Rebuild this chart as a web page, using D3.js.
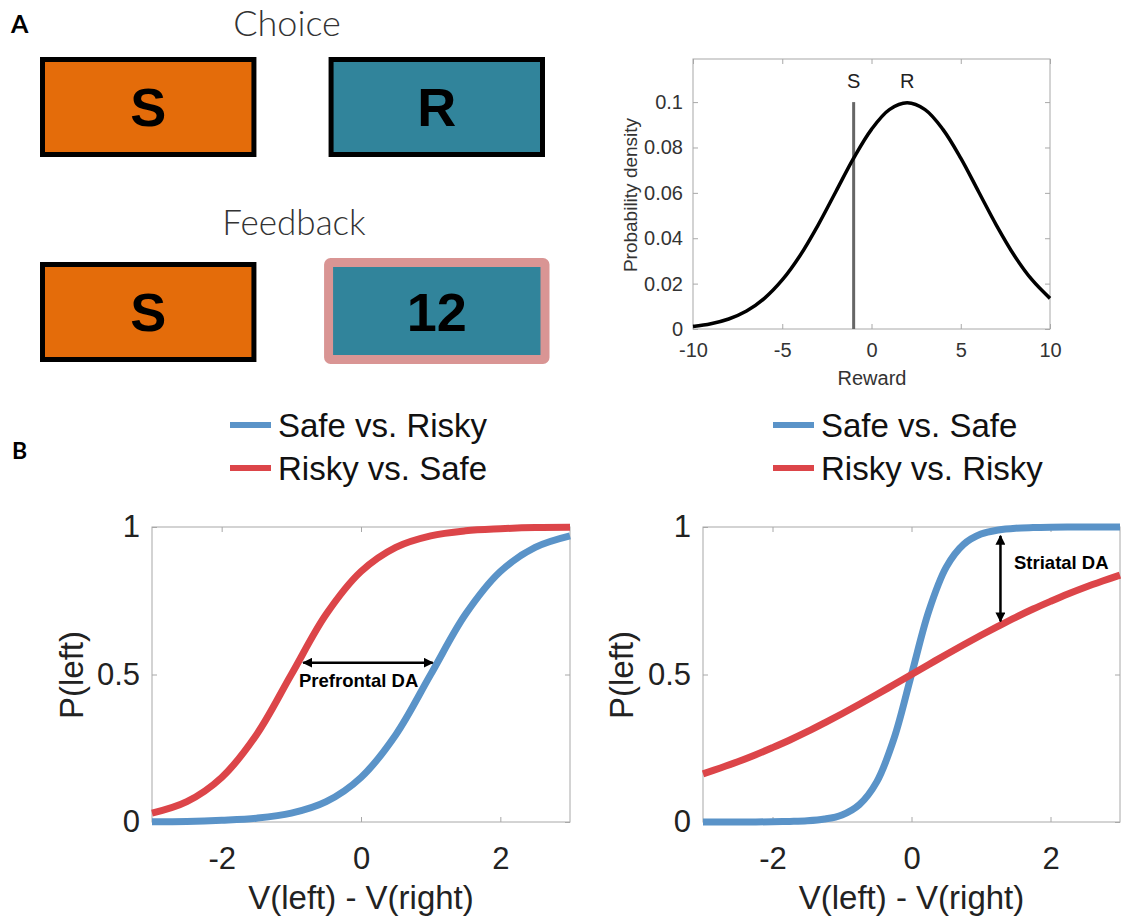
<!DOCTYPE html>
<html>
<head>
<meta charset="utf-8">
<script src="https://cdn.jsdelivr.net/npm/d3@7"></script>
<style>
  body { margin: 0; background: #fff; }
  text { font-family: "Liberation Sans", Arial, Helvetica, sans-serif; }
  .gothic { font-family: Lato, "Open Sans", sans-serif; }
</style>
</head>
<body>
<svg width="1125" height="919"></svg>
<script>
var svg = d3.select("svg"),
    width = +svg.attr("width"),
    height = +svg.attr("height");

// ---- panel A: task screens
var choiceLabels = ["S", "R"];
var feedbackLabels = ["S", "12"];

// ---- panel A: reward distribution
var rewardX = [-10, -9, -8, -7, -6, -5, -4, -3, -2, -1, 0, 1, 2, 3, 4, 5, 6, 7, 8, 9, 10];
var rewardDensity = [0.0011, 0.0023, 0.0044, 0.0079, 0.0135, 0.0216, 0.0324, 0.0457, 0.0605, 0.0753,
                     0.0880, 0.0967, 0.0997, 0.0967, 0.0880, 0.0753, 0.0605, 0.0457, 0.0324, 0.0216, 0.0135];
var safeReward = -1, riskyMean = 2;
var densityTicksX = [-10, -5, 0, 5, 10];
var densityTicksY = [0, 0.02, 0.04, 0.06, 0.08, 0.1];

// ---- panel B: choice curves
var leftX = [-3, -2.5, -2, -1.5, -1, -0.5, 0, 0.5, 1, 1.5, 2, 2.5, 3];
var safeVsRisky = [0.001, 0.002, 0.006, 0.013, 0.03, 0.069, 0.151, 0.296, 0.5, 0.704, 0.849, 0.931, 0.97];
var riskyVsSafe = [0.03, 0.069, 0.151, 0.296, 0.5, 0.704, 0.849, 0.931, 0.97, 0.987, 0.994, 0.998, 0.999];

var rightX = [-3, -2.75, -2.5, -2.25, -2, -1.75, -1.5, -1.25, -1, -0.75, -0.5, -0.25, 0,
              0.25, 0.5, 0.75, 1, 1.25, 1.5, 1.75, 2, 2.25, 2.5, 2.75, 3];
var safeVsSafe = [0, 0, 0, 0, 0.001, 0.002, 0.004, 0.01, 0.024, 0.059, 0.136, 0.284, 0.5,
                  0.716, 0.864, 0.941, 0.976, 0.99, 0.996, 0.998, 0.999, 1, 1, 1, 1];
var riskyVsRisky = [0.163, 0.183, 0.204, 0.227, 0.252, 0.278, 0.306, 0.336, 0.367, 0.399, 0.432, 0.466, 0.5,
                    0.534, 0.568, 0.601, 0.633, 0.664, 0.694, 0.722, 0.748, 0.773, 0.796, 0.817, 0.837];

var choiceTicksX = [-2, 0, 2];
var choiceTicksY = [0, 0.5, 1];
var legendLeft = ["Safe vs. Risky", "Risky vs. Safe"];
var legendRight = ["Safe vs. Safe", "Risky vs. Risky"];

var blue = "#5a93c8", red = "#dc4549";
var orange = "#e46c0a", teal = "#31849b", pink = "#d99594";
var frameColor = "#a8a8a8";

svg.append("rect").attr("width", width).attr("height", height).attr("fill", "#fff");

// arrow heads
var defs = svg.append("defs");
defs.append("marker").attr("id", "head")
    .attr("viewBox", "0 0 10 10").attr("refX", 9).attr("refY", 5)
    .attr("markerWidth", 4).attr("markerHeight", 4).attr("orient", "auto-start-reverse")
  .append("path").attr("d", "M0,0L10,5L0,10z").attr("fill", "#000");

// panel letters
svg.append("text").attr("class", "gothic").attr("x", 11).attr("y", 33)
    .attr("font-size", 25).attr("font-weight", 700).text("A");
svg.append("text").attr("class", "gothic").attr("x", 12).attr("y", 459)
    .attr("font-size", 23).attr("font-weight", 700).text("B");

//---------------------------
// Task screens
//---------------------------
var bx = d3.scaleBand().domain([0, 1]).range([40, 545]).paddingInner(0.25);

svg.append("text").attr("class", "gothic").attr("x", 287).attr("y", 36)
    .attr("text-anchor", "middle").attr("font-size", 36).attr("font-weight", 300)
    .attr("fill", "#333").text("Choice");
svg.append("text").attr("class", "gothic").attr("x", 294).attr("y", 235)
    .attr("text-anchor", "middle").attr("font-size", 35).attr("font-weight", 300)
    .attr("fill", "#333").text("Feedback");

var choiceG = svg.append("g").selectAll("g").data(choiceLabels).enter().append("g");
choiceG.append("rect")
    .attr("x", function(d, i) { return bx(i) + 2.5; }).attr("y", 59.5)
    .attr("width", bx.bandwidth() - 5).attr("height", 95)
    .attr("fill", function(d, i) { return i == 0 ? orange : teal; })
    .attr("stroke", "#000").attr("stroke-width", 5);
choiceG.append("text")
    .attr("x", function(d, i) { return bx(i) + bx.bandwidth() / 2; }).attr("y", 126)
    .attr("text-anchor", "middle").attr("font-size", 54).attr("font-weight", 700)
    .text(function(d) { return d; });

var fbG = svg.append("g").selectAll("g").data(feedbackLabels).enter().append("g");
fbG.append("rect")
    .attr("x", function(d, i) { return i == 0 ? bx(i) + 2.5 : bx(i); })
    .attr("y", function(d, i) { return i == 0 ? 264.5 : 262.5; })
    .attr("width", function(d, i) { return i == 0 ? bx.bandwidth() - 5 : bx.bandwidth(); })
    .attr("height", function(d, i) { return i == 0 ? 95 : 97; })
    .attr("rx", function(d, i) { return i == 0 ? 0 : 2; })
    .attr("fill", function(d, i) { return i == 0 ? orange : teal; })
    .attr("stroke", function(d, i) { return i == 0 ? "#000" : pink; })
    .attr("stroke-width", function(d, i) { return i == 0 ? 5 : 9; });
fbG.append("text")
    .attr("x", function(d, i) { return bx(i) + bx.bandwidth() / 2; }).attr("y", 331)
    .attr("text-anchor", "middle").attr("font-size", 54).attr("font-weight", 700)
    .text(function(d) { return d; });

//---------------------------
// Box-style axes helper (matlab look, plain hyphen minus)
//---------------------------
function plain(d) { return String(+d.toFixed(2)); }

function boxAxes(g, x, y, tx, ty, fs, padX, padY) {
  var r = x.range(), t = y.range();
  g.append("rect").attr("x", r[0]).attr("y", t[1])
      .attr("width", r[1] - r[0]).attr("height", t[0] - t[1])
      .attr("fill", "none").attr("stroke", frameColor).attr("stroke-width", 1);
  var ax = [
    g.append("g").attr("transform", "translate(0," + t[0] + ")")
      .call(d3.axisBottom(x).tickValues(tx).tickSize(-5).tickPadding(padX).tickFormat(plain)),
    g.append("g").attr("transform", "translate(0," + t[1] + ")")
      .call(d3.axisTop(x).tickValues(tx).tickSize(-5).tickFormat("")),
    g.append("g").attr("transform", "translate(" + r[0] + ",0)")
      .call(d3.axisLeft(y).tickValues(ty).tickSize(-5).tickPadding(padY).tickFormat(plain)),
    g.append("g").attr("transform", "translate(" + r[1] + ",0)")
      .call(d3.axisRight(y).tickValues(ty).tickSize(-5).tickFormat(""))
  ];
  ax.forEach(function(a) {
    a.select(".domain").remove();
    a.selectAll(".tick line").attr("stroke", frameColor);
    a.selectAll("text").attr("font-size", fs).attr("fill", "#222")
      .attr("font-family", "'Liberation Sans', Arial, sans-serif");
  });
}

//---------------------------
// Reward distribution
//---------------------------
var dx = d3.scaleLinear().domain([-10, 10]).range([693, 1050]);
var dy = d3.scaleLinear().domain([0, 0.119]).range([329, 59]);
var dg = svg.append("g").attr("class", "density");
boxAxes(dg, dx, dy, densityTicksX, densityTicksY, 20, 14, 10);
dg.selectAll("text").attr("fill", "#333");

dg.append("line")
    .attr("x1", dx(safeReward)).attr("x2", dx(safeReward))
    .attr("y1", dy(0)).attr("y2", dy(0.1))
    .attr("stroke", "#666").attr("stroke-width", 3);
dg.append("path")
    .datum(d3.zip(rewardX, rewardDensity))
    .attr("fill", "none").attr("stroke", "#000").attr("stroke-width", 3.5)
    .attr("d", d3.line().x(function(d) { return dx(d[0]); }).y(function(d) { return dy(d[1]); })
        .curve(d3.curveCatmullRom.alpha(0.5)));
dg.selectAll(".opt").data([["S", safeReward], ["R", riskyMean]]).enter().append("text")
    .attr("x", function(d) { return dx(d[1]); }).attr("y", 88)
    .attr("text-anchor", "middle").attr("font-size", 20).attr("fill", "#222")
    .text(function(d) { return d[0]; });
dg.append("text").attr("x", 872).attr("y", 385).attr("text-anchor", "middle")
    .attr("font-size", 20).attr("fill", "#333").text("Reward");
dg.append("text").attr("transform", "translate(637,195) rotate(-90)").attr("text-anchor", "middle")
    .attr("font-size", 19).attr("fill", "#333").text("Probability density");

//---------------------------
// Choice curves
//---------------------------
function choicePanel(x0, x1, xs, series, legend, lx, plx) {
  var x = d3.scaleLinear().domain([-3, 3]).range([x0, x1]);
  var y = d3.scaleLinear().domain([0, 1]).range([822, 527]);
  var g = svg.append("g");
  boxAxes(g, x, y, choiceTicksX, choiceTicksY, 31, 25, 12);
  var line = d3.line().x(function(d) { return x(d[0]); }).y(function(d) { return y(d[1]); })
      .curve(d3.curveCatmullRom.alpha(0.5));
  series.forEach(function(s) {
    g.append("path").datum(d3.zip(xs, s.v))
        .attr("fill", "none").attr("stroke", s.c).attr("stroke-width", 7)
        .attr("d", line);
  });
  g.append("text").attr("x", (x0 + x1) / 2).attr("y", 909).attr("text-anchor", "middle")
      .attr("font-size", 33).attr("fill", "#222").text("V(left) - V(right)");
  g.append("text").attr("transform", "translate(" + plx + ",675) rotate(-90)").attr("text-anchor", "middle")
      .attr("font-size", 33).attr("fill", "#222").text("P(left)");
  // legend
  var lg = svg.append("g").selectAll("g").data(legend).enter().append("g")
      .attr("transform", function(d, i) { return "translate(" + lx + "," + (425 + i * 43) + ")"; });
  lg.append("line").attr("x1", 0).attr("x2", 41)
      .attr("stroke", function(d, i) { return series[i].c; }).attr("stroke-width", 6);
  lg.append("text").attr("x", 48).attr("dy", "0.36em").attr("font-size", 33).attr("fill", "#111")
      .text(function(d) { return d; });
  return { x: x, y: y, g: g };
}

var pl = choicePanel(152, 570, leftX,
    [{ v: safeVsRisky, c: blue }, { v: riskyVsSafe, c: red }], legendLeft, 230, 83);
var pr = choicePanel(703, 1120, rightX,
    [{ v: safeVsSafe, c: blue }, { v: riskyVsRisky, c: red }], legendRight, 773, 633);

// Prefrontal DA: horizontal shift between curves
pl.g.append("line")
    .attr("x1", pl.x(-0.83)).attr("x2", pl.x(1.03))
    .attr("y1", pl.y(0.54)).attr("y2", pl.y(0.54))
    .attr("stroke", "#000").attr("stroke-width", 2.5)
    .attr("marker-start", "url(#head)").attr("marker-end", "url(#head)");
pl.g.append("text").attr("x", 299).attr("y", 687)
    .attr("font-size", 18.5).attr("font-weight", 700).text("Prefrontal DA");

// Striatal DA: vertical gap between curves
pr.g.append("line")
    .attr("x1", pr.x(1.28)).attr("x2", pr.x(1.28))
    .attr("y1", pr.y(0.97)).attr("y2", pr.y(0.68))
    .attr("stroke", "#000").attr("stroke-width", 2.5)
    .attr("marker-start", "url(#head)").attr("marker-end", "url(#head)");
pr.g.append("text").attr("x", 1014).attr("y", 569)
    .attr("font-size", 18.5).attr("font-weight", 700).text("Striatal DA");
</script>
</body>
</html>
